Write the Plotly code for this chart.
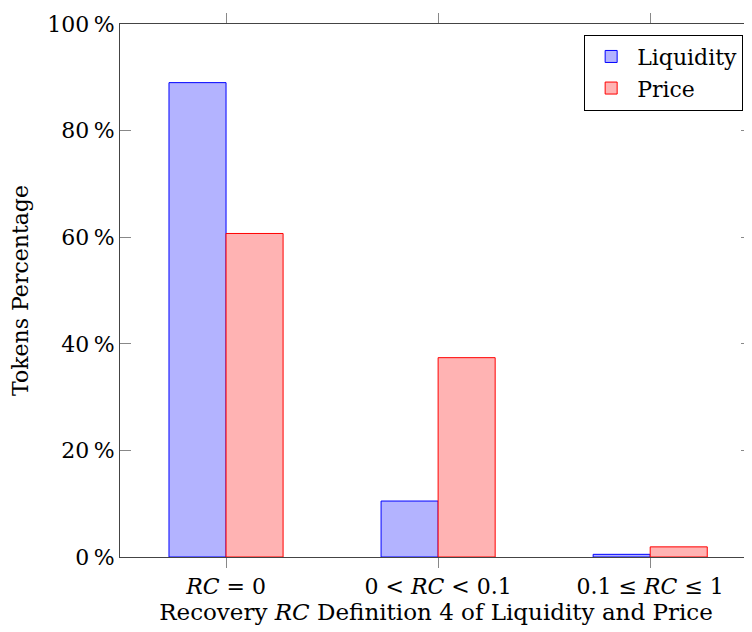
import plotly.graph_objects as go

categories = ["<i>RC</i> = 0", "0 &lt; <i>RC</i> &lt; 0.1", "0.1 ≤ <i>RC</i> ≤ 1"]
liquidity = [89.0, 10.5, 0.5]
price = [60.7, 37.4, 1.9]
y_ticks = [0, 20, 40, 60, 80, 100]
y_tick_labels = [f"{v}\u2009%" for v in y_ticks]

FONT = "DejaVu Serif"
x_idx = list(range(len(categories)))

fig = go.Figure()
fig.add_trace(go.Bar(x=x_idx, y=liquidity, name="Liquidity",
                     marker=dict(color="#b3b3ff", line=dict(color="#0000ff", width=1))))
fig.add_trace(go.Bar(x=x_idx, y=price, name="Price",
                     marker=dict(color="#ffb3b3", line=dict(color="#ff0000", width=1))))

fig.update_layout(
    width=744, height=624,
    margin=dict(l=112, r=0, t=16, b=75, autoexpand=False),
    barmode="group", bargap=0.462, bargroupgap=0,
    plot_bgcolor="white", paper_bgcolor="white",
    font=dict(family=FONT, size=21, color="black"),
    legend=dict(x=0.986, y=0.98, xanchor="right", yanchor="top",
                bordercolor="black", borderwidth=1, bgcolor="white",
                font=dict(family=FONT, size=22), itemwidth=42,
                tracegroupgap=0),
    showlegend=True,
)
fig.update_xaxes(
    range=[-0.5, 2.48], tickmode="array", tickvals=x_idx, ticktext=categories,
    showline=True, linecolor="#444", linewidth=1, mirror="ticks",
    ticks="outside", ticklen=10, tickcolor="#888", showgrid=False, zeroline=False,
    tickfont=dict(family=FONT, size=22),
    title=dict(text="Recovery <i>RC</i> Definition 4 of Liquidity and Price",
               font=dict(family=FONT, size=23), standoff=2),
)
fig.update_yaxes(
    range=[0, 100], tickmode="array", tickvals=y_ticks, ticktext=y_tick_labels,
    showline=True, linecolor="#444", linewidth=1, mirror="ticks",
    ticks="inside", ticklen=11, tickcolor="#888", showgrid=False, zeroline=False,
    tickfont=dict(family=FONT, size=22),
    title=dict(text="Tokens Percentage", font=dict(family=FONT, size=22), standoff=12),
)
fig.write_html("out.html")
